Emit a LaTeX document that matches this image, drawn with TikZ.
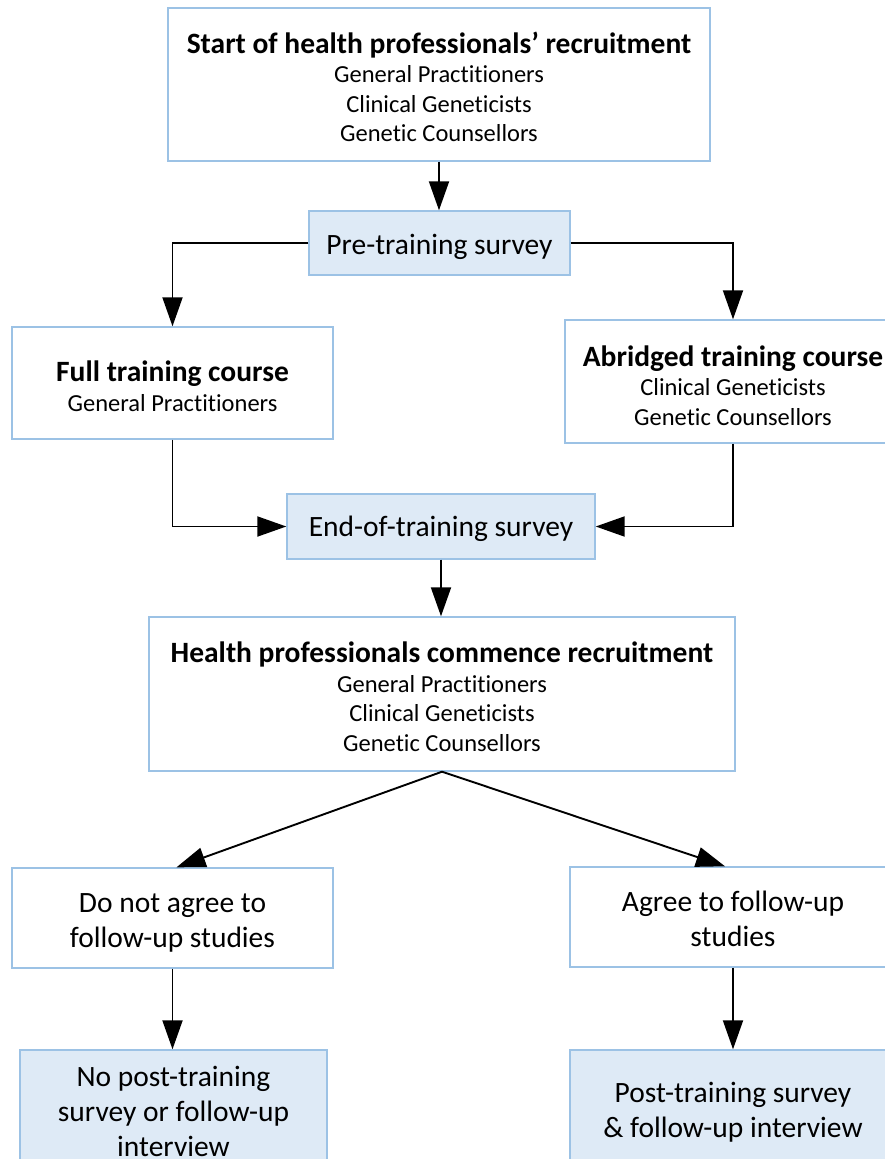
\documentclass[tikz,border=0pt]{standalone}
\usepackage{fontspec}
\setmainfont{Carlito}[Ligatures=NoCommon]
\usetikzlibrary{arrows.meta,calc}
\definecolor{bordercol}{HTML}{9CC2E5}
\definecolor{fillcol}{HTML}{DEEAF6}
\newcommand\bigfnt{\fontsize{29.5}{35}\selectfont}
\newcommand\smallfnt{\fontsize{24.5}{29.5}\selectfont}
\begin{document}
\begin{tikzpicture}[x=1pt,y=-1pt,
  boxw/.style={draw=bordercol,line width=1.4pt,fill=white,inner sep=0pt},
  boxb/.style={boxw,fill=fillcol},
  txt/.style={align=center,inner sep=0pt},
  arr/.style={line width=1.9pt,draw=black,-{Triangle[length=29pt,width=20pt]}}]
\clip (0,0) rectangle (885,1159);
\fill[white] (0,0) rectangle (885,1159);

\node[boxw,minimum width=542,minimum height=153] (top) at (439,84.5) {};
\node[txt,font=\smallfnt] (topt) at ([yshift=-2.5pt]top.center)
  {{\bigfnt\bfseries Start of health professionals’ recruitment}\\General Practitioners\\Clinical Geneticists\\Genetic Counsellors};
\node[boxb,minimum width=261,minimum height=64] (pre) at (439.5,243) {};
\node[txt,font=\bigfnt] (pret) at ([yshift=-4pt]pre.center) {Pre-training survey};
\node[boxw,minimum width=321,minimum height=112] (full) at (172.5,383) {};
\node[txt,font=\smallfnt] (fullt) at ([yshift=-3pt]full.center)
  {{\bigfnt\bfseries Full training course}\\General Practitioners};
\node[boxw,minimum width=336,minimum height=123] (abr) at (733,381.5) {};
\node[txt,font=\smallfnt] (abrt) at ([yshift=-4pt]abr.center)
  {{\bigfnt\bfseries Abridged training course}\\Clinical Geneticists\\Genetic Counsellors};
\node[boxb,minimum width=308,minimum height=65] (end) at (441,526.5) {};
\node[txt,font=\bigfnt] (endt) at ([yshift=-2pt]end.center) {End-of-training survey};
\node[boxw,minimum width=586,minimum height=154] (comm) at (442,694) {};
\node[txt,font=\smallfnt] (commt) at ([yshift=-2.5pt]comm.center)
  {{\bigfnt\bfseries Health professionals commence recruitment}\\General Practitioners\\Clinical Geneticists\\Genetic Counsellors};
\node[boxw,minimum width=321,minimum height=100] (dna) at (172.5,918) {};
\node[txt,font=\bigfnt] (dnat) at ([yshift=-5pt]dna.center) {Do not agree to\\follow-up studies};
\node[boxw,minimum width=326,minimum height=100] (agr) at (733,917) {};
\node[txt,font=\bigfnt] (agrt) at ([yshift=-1.5pt]agr.center) {Agree to follow-up\\studies};
\node[boxb,minimum width=307,minimum height=122] (nopost) at (173.5,1111) {};
\node[txt,font=\bigfnt] (nopostt) at (nopost.center) {No post-training\\survey or follow-up\\interview};
\node[boxb,minimum width=326,minimum height=122] (post) at (733,1111) {};
\node[txt,font=\bigfnt] (postt) at ([yshift=-1pt]post.center) {Post-training survey\\\& follow-up interview};

\draw[arr] (top.south) -- (top.south |- pre.north);
\draw[arr] (pre.west) -| (full.north);
\draw[arr] (pre.east) -| (abr.north);
\draw[arr] (full.south) |- (end.west);
\draw[arr] (abr.south) |- (end.east);
\draw[arr] (end.south) -- (end.south |- comm.north);
\draw[arr] (comm.south) -- ([xshift=4pt]dna.north);
\draw[arr] (comm.south) -- ([xshift=-8pt]agr.north);
\draw[arr] (dna.south) -- (dna.south |- nopost.north);
\draw[arr] (agr.south) -- (post.north);
\end{tikzpicture}
\end{document}
